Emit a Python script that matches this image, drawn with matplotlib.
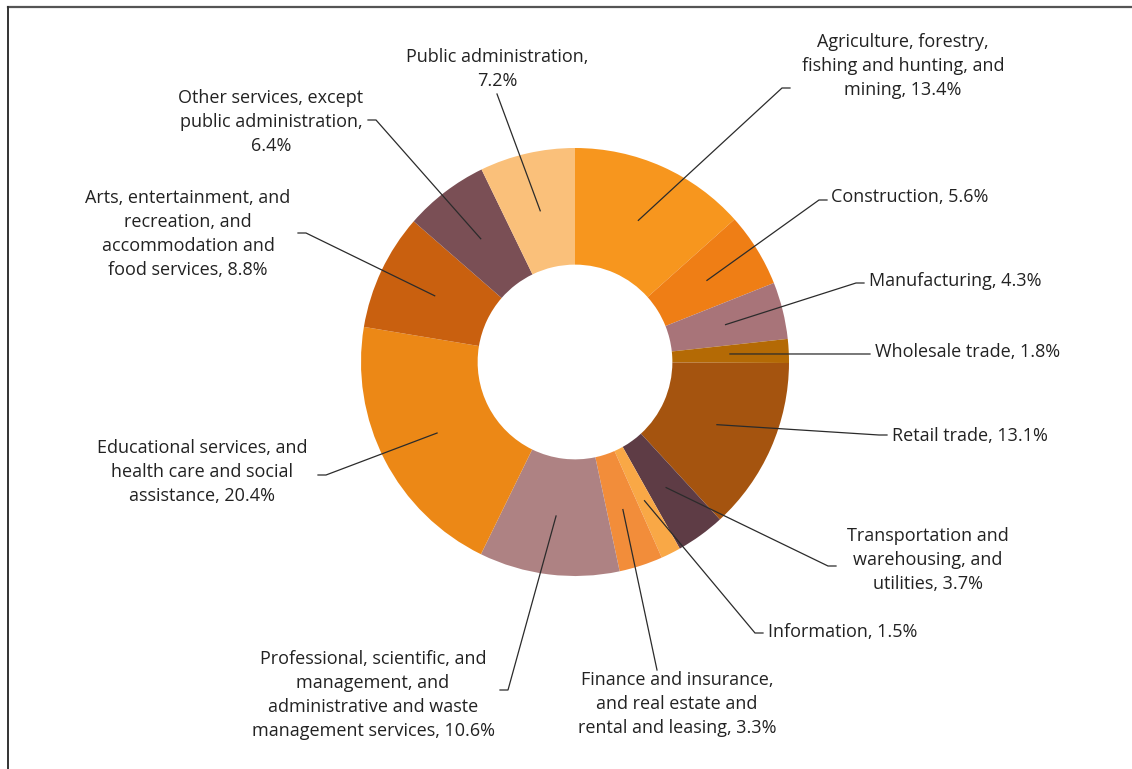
import numpy as np
import matplotlib
matplotlib.use("Agg")
import matplotlib.pyplot as plt

# ---- data ----
labels = [
    "Agriculture, forestry,\nfishing and hunting, and\nmining, 13.4%",
    "Construction, 5.6%",
    "Manufacturing, 4.3%",
    "Wholesale trade, 1.8%",
    "Retail trade, 13.1%",
    "Transportation and\nwarehousing, and\nutilities, 3.7%",
    "Information, 1.5%",
    "Finance and insurance,\nand real estate and\nrental and leasing, 3.3%",
    "Professional, scientific, and\nmanagement, and\nadministrative and waste\nmanagement services, 10.6%",
    "Educational services, and\nhealth care and social\nassistance, 20.4%",
    "Arts, entertainment, and\nrecreation, and\naccommodation and\nfood services, 8.8%",
    "Other services, except\npublic administration,\n6.4%",
    "Public administration,\n7.2%",
]
values = [13.4, 5.6, 4.3, 1.8, 13.1, 3.7, 1.5, 3.3, 10.6, 20.4, 8.8, 6.4, 7.2]
colors = ["#F7961E", "#EF7E15", "#A87479", "#B46A05", "#A5540F", "#5E3C45",
          "#F9A846", "#F28D3A", "#AE8283", "#EC8816", "#C9600F", "#7A4F55",
          "#FAC07A"]

# ---- layout (pixel positions of label text and leader-line start) ----
W, H = 1132, 769
cx, cy, R = 575, 362, 214
# (text x, text y, ha, line start x, line start y, stub direction toward pie)
label_layout = [
    (903, 66, "center", 790, 88, -1),
    (831, 197, "left", 827, 200, -1),
    (869, 281, "left", 864, 283, -1),
    (875, 352, "left", 870, 354, -1),
    (892, 436, "left", 887, 435, -1),
    (928, 560, "center", 836, 566, -1),
    (768, 632, "left", 763, 633, -1),
    (677, 704, "center", 657, 670, 0),
    (373, 695, "center", 500, 690, 1),
    (202, 472, "center", 318, 475, 1),
    (188, 234, "center", 298, 233, 1),
    (271, 122, "center", 368, 120, 1),
    (497, 69, "center", 497, 94, 0),
]

plt.rcParams['font.family'] = ['Open Sans', 'DejaVu Sans']
fig = plt.figure(figsize=(W / 100, H / 100), dpi=100)
ax = fig.add_axes([0, 0, 1, 1])

wedges, _ = ax.pie(values, colors=colors, startangle=90, counterclock=False,
                   center=(cx, H - cy), radius=R,
                   wedgeprops=dict(width=R * 0.545, linewidth=0, antialiased=True),
                   frame=True)
ax.set_xlim(0, W)
ax.set_ylim(0, H)
ax.set_aspect('equal')
ax.axis('off')

for w, lab, lay in zip(wedges, labels, label_layout):
    tx, ty, ha, sx, sy, stub = lay
    mid = np.deg2rad((w.theta1 + w.theta2) / 2)
    r_anchor = R * 0.725
    axp = cx + r_anchor * np.cos(mid)
    ayp = (H - cy) + r_anchor * np.sin(mid)
    sy_d = H - sy
    if stub != 0:
        bx = sx + 8 * stub
        ax.plot([sx, bx, axp], [sy_d, sy_d, ayp], color="#2b2b2b", lw=0.9,
                solid_joinstyle='miter')
    else:
        ax.plot([sx, axp], [sy_d, ayp], color="#2b2b2b", lw=0.9)
    ax.text(tx, H - ty, lab, ha=ha, va="center", fontsize=13,
            color="#222222", linespacing=1.43, multialignment="center")

# frame lines (top and left)
ax.plot([8, W], [H - 6.5, H - 6.5], color="#555555", lw=1.6, clip_on=False)
ax.plot([8, 8], [H - 6.5, 0], color="#333333", lw=1.4, clip_on=False)

fig.savefig("out.png", dpi=100)
